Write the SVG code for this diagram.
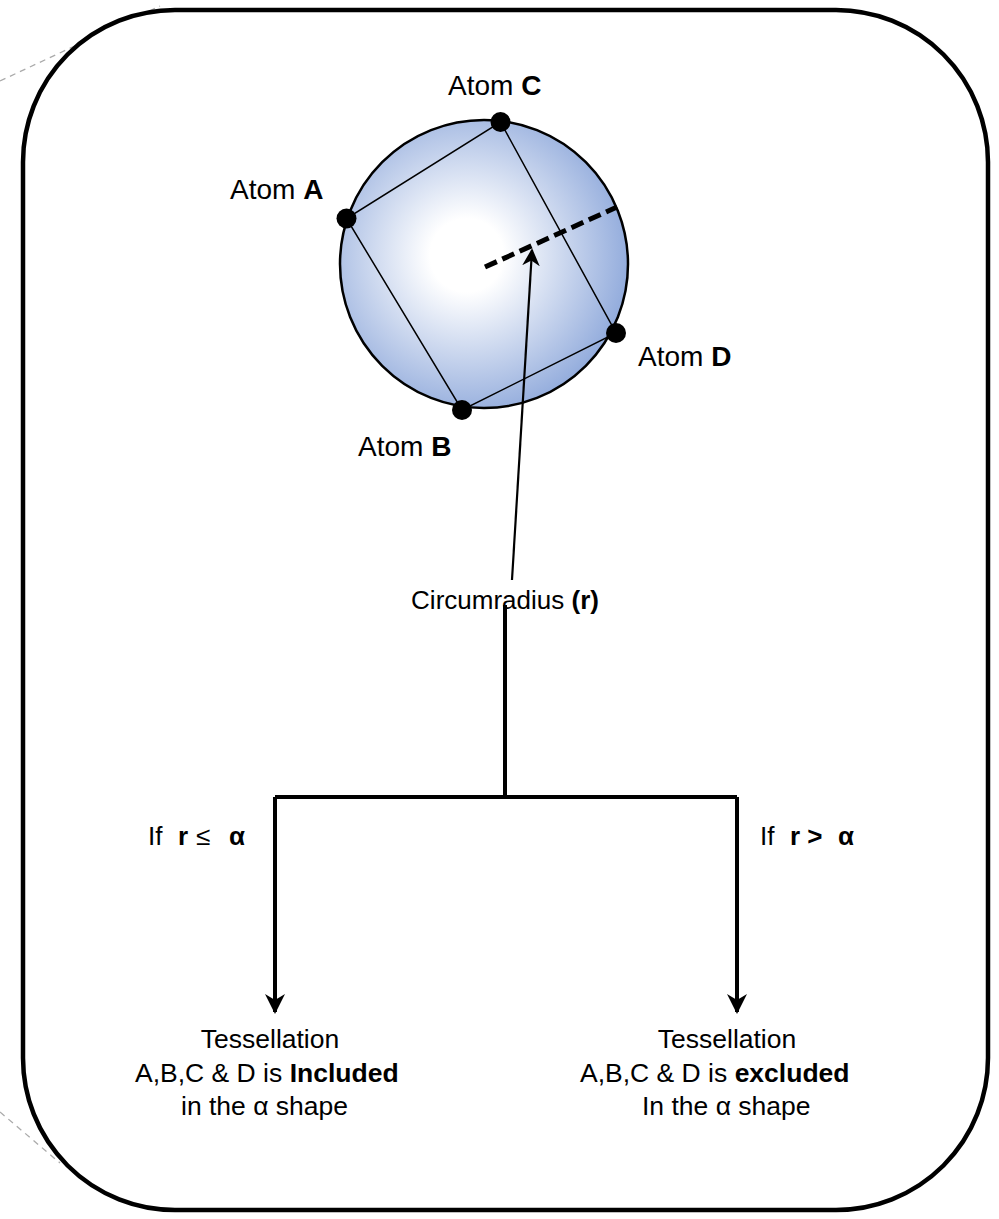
<svg xmlns="http://www.w3.org/2000/svg" width="999" height="1219" viewBox="0 0 999 1219">
<defs>
<radialGradient id="sphere" cx="0.44" cy="0.47" r="0.58">
<stop offset="0" stop-color="#ffffff"/>
<stop offset="0.22" stop-color="#ffffff"/>
<stop offset="1" stop-color="#8fa9db"/>
</radialGradient>
<marker id="arr" viewBox="0 0 10 10" refX="9" refY="5" markerWidth="5" markerHeight="5" orient="auto" markerUnits="strokeWidth">
<path d="M0,0 L10,5 L0,10 L3,5 Z" fill="#000"/>
</marker>
<marker id="arr2" viewBox="0 0 10 10" refX="9" refY="5" markerWidth="8" markerHeight="8" orient="auto" markerUnits="strokeWidth">
<path d="M0,0 L10,5 L0,10 L3,5 Z" fill="#000"/>
</marker>
</defs>
<style>
text{font-family:"Liberation Sans",Arial,sans-serif;font-size:26px;fill:#000}
.lbl{font-size:28px}
.bt{font-size:26.5px}
.b{font-weight:bold}
.guide{stroke:#aaa;stroke-width:1.3;stroke-dasharray:6 5;fill:none}
.edge{stroke:#000;stroke-width:4;fill:none}
.sq{stroke:#000;stroke-width:1.5;fill:none}
.atom{fill:#000}
</style>
<line class="guide" x1="0" y1="81" x2="160" y2="6"/>
<line class="guide" x1="0" y1="1112" x2="60" y2="1163"/>
<g id="frame">
<rect x="23" y="10" width="965" height="1200" rx="152" ry="152" fill="#fff" stroke="#000" stroke-width="4.5"/>
</g>
<g id="sphere-node">
<circle cx="484" cy="264" r="144" fill="url(#sphere)" stroke="#000" stroke-width="2.5"/>
<polygon class="sq" points="500.5,122 616,333 462,410 346.5,218.5"/>
<line x1="485" y1="267" x2="617" y2="207" stroke="#000" stroke-width="5" stroke-dasharray="13 6"/>
</g>
<g id="atom-C"><circle class="atom" cx="500.5" cy="122" r="10"/><text class="lbl" x="448" y="95">Atom <tspan class="b">C</tspan></text></g>
<g id="atom-A"><circle class="atom" cx="346.5" cy="218.5" r="10"/><text class="lbl" x="230" y="199">Atom <tspan class="b">A</tspan></text></g>
<g id="atom-D"><circle class="atom" cx="616" cy="333" r="10"/><text class="lbl" x="638" y="366">Atom <tspan class="b">D</tspan></text></g>
<g id="atom-B"><circle class="atom" cx="462" cy="410" r="10"/><text class="lbl" x="358" y="456">Atom <tspan class="b">B</tspan></text></g>
<g id="circumradius"><text x="505" y="609" text-anchor="middle">Circumradius <tspan class="b">(r)</tspan></text></g>
<g id="included"><text class="bt" x="270" y="1048" text-anchor="middle">Tessellation</text><text class="bt" x="135" y="1082">A,B,C &amp; D is <tspan class="b">Included</tspan></text><text class="bt" x="181" y="1115">in the α shape</text></g>
<g id="excluded"><text class="bt" x="727" y="1048" text-anchor="middle">Tessellation</text><text class="bt" x="580" y="1082">A,B,C &amp; D is <tspan class="b">excluded</tspan></text><text class="bt" x="642" y="1115">In the α shape</text></g>
<g id="connectors">
<line x1="512" y1="580" x2="532" y2="250" stroke="#000" stroke-width="2.2" marker-end="url(#arr2)"/>
<polyline class="edge" points="505,605 505,797"/>
<polyline class="edge" points="275,797 737,797"/>
<line class="edge" x1="275" y1="797" x2="275" y2="1012" stroke-width="3" marker-end="url(#arr)"/>
<line class="edge" x1="737" y1="797" x2="737" y2="1012" stroke-width="3" marker-end="url(#arr)"/>
<text x="148" y="845">If</text><text class="b" x="178" y="845">r</text><text x="196" y="845">≤</text><text class="b" x="229" y="845">α</text>
<text x="760" y="845">If</text><text class="b" x="790" y="845">r &gt;</text><text class="b" x="838" y="845">α</text>
</g>
</svg>
